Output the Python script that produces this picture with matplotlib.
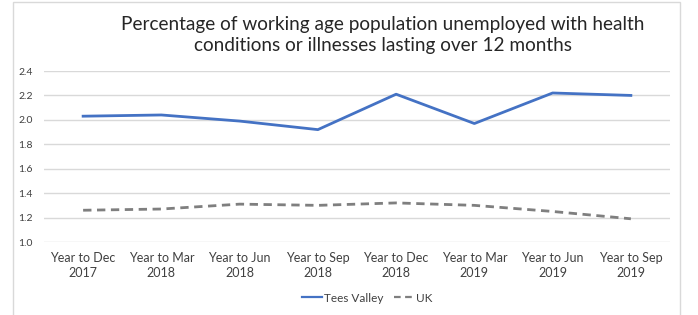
import matplotlib
matplotlib.use("Agg")
import matplotlib.pyplot as plt
from matplotlib.patches import Rectangle

# data
categories = ["Year to Dec\n2017", "Year to Mar\n2018", "Year to Jun\n2018", "Year to Sep\n2018",
              "Year to Dec\n2018", "Year to Mar\n2019", "Year to Jun\n2019", "Year to Sep\n2019"]
tees_valley = [2.03, 2.04, 1.99, 1.92, 2.21, 1.97, 2.22, 2.20]
uk = [1.26, 1.27, 1.31, 1.30, 1.32, 1.30, 1.25, 1.19]
y_ticks = [1.0, 1.2, 1.4, 1.6, 1.8, 2.0, 2.2, 2.4]

plt.rcParams['font.family'] = ['Lato', 'DejaVu Sans']

W, H = 698, 315
fig = plt.figure(figsize=(W / 100, H / 100), dpi=100)

# light grey chart border
fig.patches.append(Rectangle((13 / W, -0.1), (680 - 13) / W, 1.1 - 2 / H, transform=fig.transFigure,
                             fill=False, edgecolor="#D9D9D9", linewidth=1.0))

ax = fig.add_axes([44 / W, 1 - 242 / H, (670 - 44) / W, 171 / H])
x = range(len(categories))
ax.plot(x, tees_valley, color="#4472C4", linewidth=2.0, label="Tees Valley")
ax.plot(x, uk, color="#7F7F7F", linewidth=2.0, linestyle=(0, (3, 2)), label="UK")

ax.set_xlim(-0.5, len(categories) - 0.5)
ax.set_ylim(1.0, 2.4)
ax.set_yticks(y_ticks)
ax.set_yticklabels(["{0:.1f}".format(v) for v in y_ticks], fontsize=7.5, color="#404040")
ax.set_xticks(list(x))
ax.set_xticklabels(categories, fontsize=9, color="#404040", linespacing=1.35)
ax.tick_params(length=0, pad=7)
ax.tick_params(axis="y", pad=8)
ax.grid(axis="y", color="#D9D9D9", linewidth=1.0)
ax.set_axisbelow(True)
for s in ax.spines.values():
    s.set_visible(False)

fig.text(383 / W, 1 - 35 / H,
         "Percentage of working age population unemployed with health\nconditions or illnesses lasting over 12 months",
         ha="center", va="center", fontsize=13.7, color="#262626", linespacing=1.3)

leg = fig.legend(loc="center", bbox_to_anchor=(367 / W, 1 - 298 / H), ncol=2, frameon=False,
                 fontsize=8.5, handlelength=1.7, handletextpad=0.15, columnspacing=0.9,
                 labelcolor="#404040")
for line in leg.get_lines():
    line.set_linewidth(1.6)

fig.savefig("out.png", dpi=100)
